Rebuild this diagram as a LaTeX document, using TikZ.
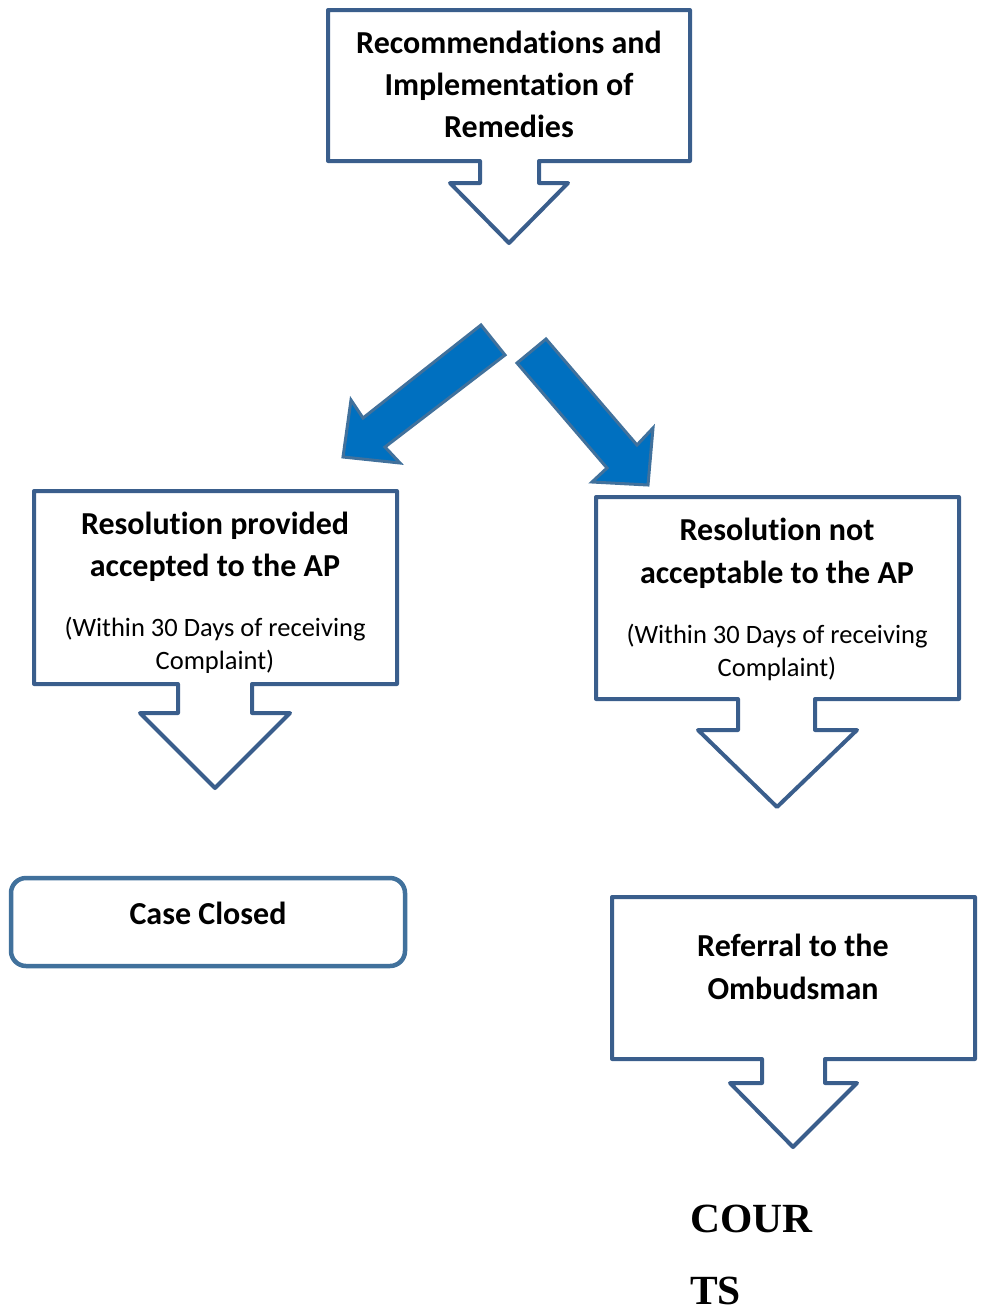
\documentclass[tikz,border=0pt]{standalone}
\usepackage{fontspec}
\setmainfont[Ligatures={NoCommon}]{Carlito}
\newfontfamily\timesfam{Liberation Serif}
\definecolor{cobord}{RGB}{58,94,140}
\definecolor{arrowfill}{RGB}{0,112,192}
\definecolor{arrowbord}{RGB}{65,113,156}
\begin{document}
\begin{tikzpicture}[x=1pt,y=-1pt,
  co/.style={draw=cobord, line width=4pt, line join=round, fill=white},
  bigarrow/.style={fill=arrowfill, draw=arrowbord, line width=3pt, line join=miter},
  ttl/.style={font=\fontsize{32}{40}\selectfont\bfseries, anchor=base, inner sep=0},
  sub/.style={font=\fontsize{26.5}{33}\selectfont, anchor=base, inner sep=0},
  crt/.style={font=\fontsize{41.5}{50}\selectfont\timesfam\bfseries, anchor=base west, inner sep=0}]
\useasboundingbox (0,0) rectangle (984,1312);

% top callout
\draw[co] (328,10) -- (690,10) -- (690,161) -- (539,161) -- (539,183) -- (568,183)
  -- (509,243) -- (450,183) -- (480,183) -- (480,161) -- (328,161) -- cycle;
\node[ttl] (t1) at (509,53) {Recommendations and};
\node[ttl] (t2) at (509,95) {Implementation of};
\node[ttl] (t3) at (509,137) {Remedies};

% big blue arrows
\draw[bigarrow] (481,325) -- (363,418) -- (351,400) -- (343,457) -- (400,463)
  -- (385,447) -- (505,355) -- cycle;
\draw[bigarrow] (546,339) -- (637,445) -- (653,428) -- (648,485) -- (592,482)
  -- (607,468) -- (517,363) -- cycle;

% left callout
\draw[co] (34,491) -- (397,491) -- (397,684) -- (252,684) -- (252,713) -- (290,713)
  -- (215,788) -- (140,713) -- (178,713) -- (178,684) -- (34,684) -- cycle;
\node[ttl] (l1) at (215,534) {Resolution provided};
\node[ttl] (l2) at (215,576) {accepted to the AP};
\node[sub] (l3) at (215,636) {(Within 30 Days of receiving};
\begin{scope}
\clip (34,491) rectangle (397,672);
\node[sub] (l4) at (215,669) {Complaint)};
\end{scope}

% right callout
\draw[co] (596,497) -- (959,497) -- (959,699) -- (815,699) -- (815,730) -- (857,730)
  -- (777,807) -- (698,730) -- (738,730) -- (738,699) -- (596,699) -- cycle;
\node[ttl] (r1) at (777,540) {Resolution not};
\node[ttl] (r2) at (777,583) {acceptable to the AP};
\node[sub] (r3) at (777,643) {(Within 30 Days of receiving};
\node[sub] (r4) at (777,676) {Complaint)};

% case closed
\draw[draw=arrowbord, line width=4.5pt, rounded corners=15pt, fill=white] (11,878) rectangle (405,966);
\node[ttl] (cc) at (208,924) {Case Closed};

% referral callout
\draw[co] (612,897) -- (975,897) -- (975,1059) -- (825,1059) -- (825,1083) -- (857,1083)
  -- (793,1147) -- (730,1083) -- (762,1083) -- (762,1059) -- (612,1059) -- cycle;
\node[ttl] (o1) at (793,956) {Referral to the};
\node[ttl] (o2) at (793,999) {Ombudsman};

% courts
\node[crt] (c1) at (690,1232) {COUR};
\node[crt] (c2) at (690,1304) {TS};
\end{tikzpicture}
\end{document}
